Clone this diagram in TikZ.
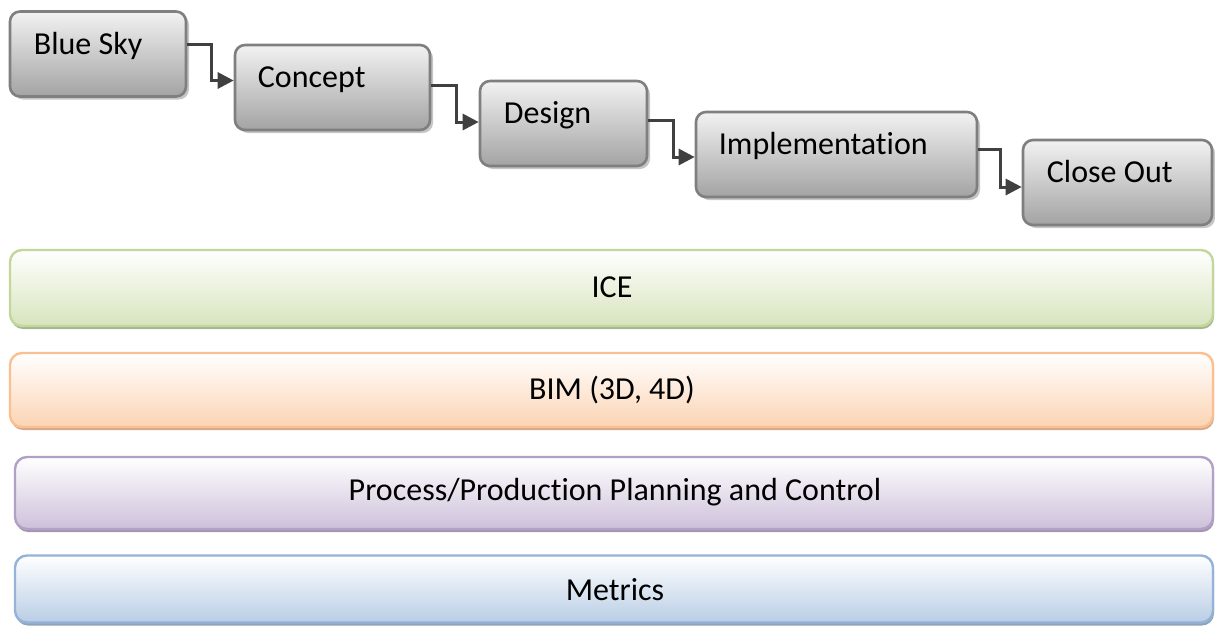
\documentclass[tikz,border=0pt]{standalone}
\usepackage{fontspec}
\setmainfont{Carlito}[Ligatures={NoCommon}]
\usetikzlibrary{arrows.meta}

% grey stage boxes
\definecolor{boxline}{HTML}{7F7F7F}
\definecolor{boxtop}{HTML}{F2F2F2}
\definecolor{boxmid}{HTML}{D4D4D4}
\definecolor{boxbot}{HTML}{A3A3A3}
\definecolor{boxshadow}{HTML}{C6C6C6}
\definecolor{arrowcol}{HTML}{404040}
% layer bars
\definecolor{iceline}{HTML}{C3D69B}
\definecolor{icemid}{HTML}{EEF3E3}
\definecolor{icebot}{HTML}{D7E4BD}
\definecolor{iceshadow}{HTML}{A8B592}
\definecolor{bimline}{HTML}{FAC090}
\definecolor{bimmid}{HTML}{FDEDE1}
\definecolor{bimbot}{HTML}{FBD4B4}
\definecolor{bimshadow}{HTML}{D4AA8A}
\definecolor{ppcline}{HTML}{B2A1C7}
\definecolor{ppcmid}{HTML}{EDE8F1}
\definecolor{ppcbot}{HTML}{CDC0DA}
\definecolor{ppcshadow}{HTML}{A297AC}
\definecolor{metline}{HTML}{95B3D7}
\definecolor{metmid}{HTML}{E6EDF6}
\definecolor{metbot}{HTML}{B9CDE5}
\definecolor{metshadow}{HTML}{8FA3BB}

\begin{document}
\begin{tikzpicture}[x=1pt,y=-1pt,
  stagebox/.style={draw=boxline, line width=2.6pt, rounded corners=10pt,
    top color=boxtop, middle color=boxmid, bottom color=boxbot,
    inner sep=0pt, minimum height=85pt,
    preaction={fill=boxshadow, transform canvas={xshift=3pt,yshift=-3pt}}},
  stagetext/.style={anchor=base west, inner sep=0pt, font=\fontsize{32}{38}\selectfont},
  conn/.style={draw=arrowcol, line width=3pt,
    -{Triangle[length=16pt,width=16pt]}},
  layerbar/.style={line width=2.4pt, rounded corners=12pt, inner sep=0pt},
  layer/.style n args={4}{layerbar, draw=#1, top color=white, middle color=#2,
    bottom color=#3,
    preaction={fill=#4, transform canvas={xshift=1pt,yshift=-3pt}}},
  layertext/.style={inner sep=0pt, font=\fontsize{32}{38}\selectfont}
]
\useasboundingbox (0,0) rectangle (1215,625);

% project stages
\node[stagebox, minimum width=176pt] (bs) at (98,54) {};
\node[stagebox, minimum width=195pt] (cp) at (332.5,87.5) {};
\node[stagebox, minimum width=167pt] (ds) at (563.5,123.5) {};
\node[stagebox, minimum width=281pt] (im) at (836.5,154.5) {};
\node[stagebox, minimum width=189pt] (co) at (1117.5,182.5) {};

\node[stagetext] (bsT) at ([xshift=25pt,yshift=-44pt]bs.north west) {Blue Sky};
\node[stagetext] (cpT) at ([xshift=24pt,yshift=-44pt]cp.north west) {Concept};
\node[stagetext] (dsT) at ([xshift=25pt,yshift=-44pt]ds.north west) {Design};
\node[stagetext] (imT) at ([xshift=24pt,yshift=-44pt]im.north west) {Implementation};
\node[stagetext] (coT) at ([xshift=25pt,yshift=-44pt]co.north west) {Close Out};

% elbow connectors between stages
\draw[conn] ([yshift=10pt]bs.east) -- ++(24,0) |- ([yshift=7pt]cp.west);
\draw[conn] ([yshift=2pt]cp.east) -- ++(25,0) |- ([yshift=1.5pt]ds.west);
\draw[conn] ([yshift=3.5pt]ds.east) -- ++(25,0) |- ([yshift=-2.5pt]im.west);
\draw[conn] ([yshift=5.5pt]im.east) -- ++(22,0) |- ([yshift=-4.5pt]co.west);

% supporting layers
\node[layer={iceline}{icemid}{icebot}{iceshadow},
  minimum width=1203pt, minimum height=76pt] (ice) at (611.5,288) {};
\node[layertext] (iceT) at (612,287) {ICE};

\node[layer={bimline}{bimmid}{bimbot}{bimshadow},
  minimum width=1203pt, minimum height=74pt] (bim) at (611.5,390) {};
\node[layertext] (bimT) at (612,390) {BIM (3D, 4D)};

\node[layer={ppcline}{ppcmid}{ppcbot}{ppcshadow},
  minimum width=1198pt, minimum height=72pt] (ppc) at (614,493) {};
\node[layertext] (ppcT) at (615,492) {Process/Production Planning and Control};

\node[layer={metline}{metmid}{metbot}{metshadow},
  minimum width=1198pt, minimum height=67pt] (met) at (614,589) {};
\node[layertext] (metT) at (615,590) {Metrics};
\end{tikzpicture}
\end{document}
